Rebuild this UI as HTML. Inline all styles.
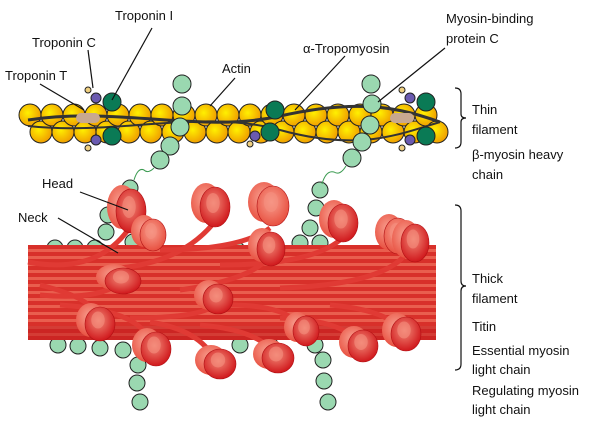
<!DOCTYPE html>
<html><head><meta charset="utf-8"><style>
body{margin:0;background:#fff;width:600px;height:428px;overflow:hidden}
svg{display:block}
text{font-family:"Liberation Sans",sans-serif;font-size:13px;fill:#111}
</style></head><body>
<svg id="s" width="600" height="428" viewBox="0 0 600 428">
<defs>
<radialGradient id="yg" cx="40%" cy="40%" r="60%"><stop offset="0" stop-color="#fff000"/><stop offset="1" stop-color="#f0a000"/></radialGradient>
<radialGradient id="rg" cx="45%" cy="40%" r="60%"><stop offset="0" stop-color="#f28a78"/><stop offset="1" stop-color="#d0181c"/></radialGradient>
<radialGradient id="rl" cx="45%" cy="40%" r="60%"><stop offset="0" stop-color="#f8a090"/><stop offset="1" stop-color="#e85040"/></radialGradient>
</defs>
<g id="g"></g>
<g fill="none" stroke="#111" stroke-width="1.2">
<path d="M455 88 q6 0 6 6 v20 q0 4 5 4 q-5 0 -5 4 v20 q0 6 -6 6"/>
<path d="M455 205 q6 0 6 6 v70 q0 5 5 5 q-5 0 -5 5 v73 q0 6 -6 6"/>
<line x1="152" y1="28" x2="112" y2="100"/><line x1="88" y1="50" x2="93" y2="88"/>
<line x1="40" y1="84" x2="84" y2="110"/><line x1="235" y1="78" x2="210" y2="106"/>
<line x1="345" y1="56" x2="295" y2="110"/><line x1="445" y1="48" x2="378" y2="102"/>
<line x1="80" y1="192" x2="128" y2="210"/><line x1="58" y1="218" x2="118" y2="253"/>
</g>
<text x="115" y="20">Troponin I</text>
<text x="32" y="47">Troponin C</text>
<text x="5" y="80">Troponin T</text>
<text x="222" y="73">Actin</text>
<text x="303" y="53">α-Tropomyosin</text>
<text x="446" y="23">Myosin-binding</text>
<text x="446" y="43">protein C</text>
<text x="42" y="188">Head</text>
<text x="18" y="222">Neck</text>
<text x="472" y="114">Thin</text><text x="472" y="134">filament</text>
<text x="472" y="159">β-myosin heavy</text><text x="472" y="179">chain</text>
<text x="472" y="283">Thick</text><text x="472" y="303">filament</text>
<text x="472" y="331">Titin</text>
<text x="472" y="355">Essential myosin</text><text x="472" y="374">light chain</text>
<text x="472" y="395">Regulating myosin</text><text x="472" y="414">light chain</text>
</svg>
<script>
var g=document.getElementById('g'),h='';
function c(x,y,r,f,s){h+='<circle cx="'+x+'" cy="'+y+'" r="'+r+'" fill="'+f+'" stroke="'+(s||'#222')+'" stroke-width="1"/>';}
var gr='#9ad8b0';
[[55,248],[75,248],[95,248],[106,232],[108,215],[118,200],[130,188],[150,240],[133,242],[237,250],[300,243],[320,243],[310,228],[316,208],[320,190],
 [58,345],[78,346],[100,348],[123,350],[138,365],[137,383],[140,402],[323,360],[324,381],[328,402],[315,345],[240,345],[270,345]].forEach(p=>c(p[0],p[1],8,gr));
for(var x=30;x<440;x+=22){c(x,115,11,'url(#yg)');c(x+11,132,11,'url(#yg)');}
h+='<path d="M28 120 C120 106 200 134 280 116 S400 108 440 122" stroke="#333" stroke-width="3" fill="none"/>';
h+='<path d="M28 126 C120 136 200 108 280 130 S400 134 440 122" stroke="#333" stroke-width="2" fill="none"/>';
[[98,116],[412,116]].forEach(p=>{h+='<rect x="'+(p[0]-22)+'" y="'+(p[1]-3)+'" width="24" height="10" rx="5" fill="#c8a890"/>';c(p[0]+14,p[1]-14,9,'#0a7a55');c(p[0]-2,p[1]-18,5,'#6a5ab0');c(p[0]-10,p[1]-26,3,'#f0d080');c(p[0]+14,p[1]+20,9,'#0a7a55');c(p[0]-2,p[1]+24,5,'#6a5ab0');c(p[0]-10,p[1]+32,3,'#f0d080');});
c(275,110,9,'#0a7a55');c(270,132,9,'#0a7a55');c(255,136,5,'#6a5ab0');c(250,144,3,'#f0d080');
[[182,84],[182,106],[180,127],[170,146],[160,160]].forEach(p=>c(p[0],p[1],9,gr));
[[371,84],[372,104],[370,125],[362,142],[352,158]].forEach(p=>c(p[0],p[1],9,gr));
h+='<path d="M154 168 q-6 6 -10 2 q-6 -3 -10 10" stroke="#3a9a50" fill="none"/><path d="M346 166 q-6 10 -12 6 q-8 -2 -12 12" stroke="#3a9a50" fill="none"/>';
h+='<rect x="28" y="245" width="408" height="95" fill="#d8302a"/>';
for(var y=249;y<340;y+=7)h+='<rect x="28" y="'+y+'" width="408" height="3" fill="#ee6a58" opacity="0.8"/>';
h+='<rect x="28" y="326" width="408" height="14" fill="#c01a1c" opacity="0.5"/>';
[[128,230,95,275,28,262],[212,225,180,262,120,268],[270,228,240,250,160,250],[340,240,310,265,220,265],[405,255,380,285,280,288],[117,285,95,300,40,295],[268,258,250,280,180,290],[215,305,200,318,130,318],[95,320,100,300,40,285],[150,342,140,310,60,305],[215,360,200,330,150,322],[275,355,260,330,200,325],[303,330,290,305,230,305],[360,345,345,320,280,318],[403,333,390,310,330,305]].forEach(l=>h+='<path d="M'+l[0]+' '+l[1]+' Q'+l[2]+' '+l[3]+' '+l[4]+' '+l[5]+'" stroke="#e03a34" stroke-width="5" fill="none"/>');
function hd(x,y,rx,ry,light){var f=light?'url(#rl)':'url(#rg)';h+='<g transform="translate('+x+' '+y+')"><ellipse cx="-6" cy="-3" rx="'+rx+'" ry="'+ry+'" fill="url(#rl)"/><ellipse cx="3" cy="1" rx="'+rx+'" ry="'+ry+'" fill="'+f+'" stroke="#b01014" stroke-width="0.6"/><ellipse cx="1" cy="-3" rx="'+(rx*0.45)+'" ry="'+(ry*0.5)+'" fill="#f5907e" opacity="0.6"/></g>';}
[[128,210,15,22],[212,206,15,20],[270,205,16,20,1],[340,222,15,19],[395,235,14,18,1],[412,242,14,19],[150,234,13,16,1],[120,280,18,13],[268,248,14,17],[215,298,15,15],[97,323,15,17],[153,348,15,17],[217,363,16,15],[275,357,16,15],[303,330,13,15],[360,345,15,16],[403,333,15,17]].forEach(a=>hd.apply(null,a));
g.innerHTML=h;
</script>
</body></html>
